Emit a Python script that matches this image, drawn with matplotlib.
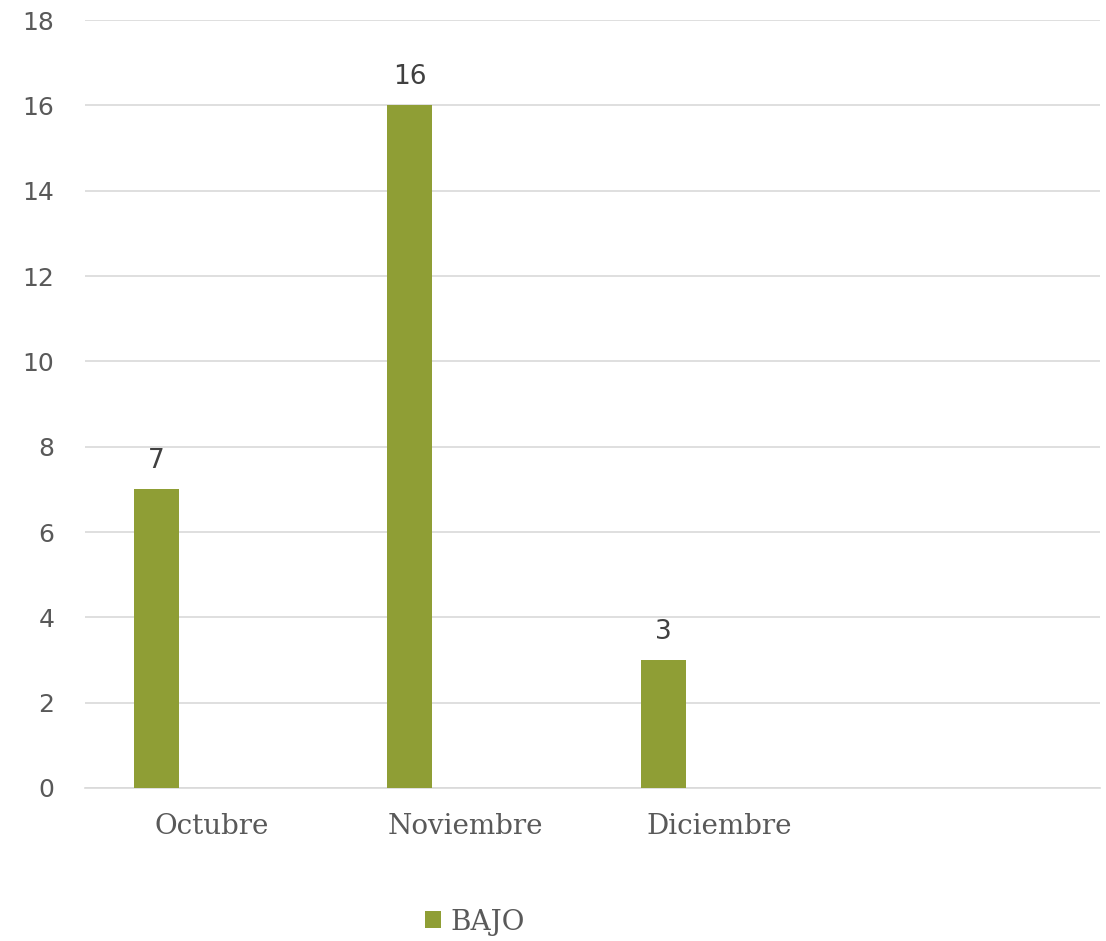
import matplotlib.pyplot as plt

# datos
categories = ['Octubre', 'Noviembre', 'Diciembre', '']
bajo = [7, 16, 3, None]
series_name = 'BAJO'
y_ticks = [0, 2, 4, 6, 8, 10, 12, 14, 16, 18]

bar_color = '#8F9E35'
text_color = '#595959'
grid_color = '#D9D9D9'

plt.rcParams['font.family'] = ['DejaVu Serif']

fig = plt.figure(figsize=(11.06, 9.41), dpi=100)
ax = fig.add_axes([0.0769, 0.1626, 0.9177, 0.8161])

xs = list(range(len(categories)))
offset = -0.22
width = 0.177
bx = [x + offset for x, v in zip(xs, bajo) if v is not None]
bv = [v for v in bajo if v is not None]
bars = ax.bar(bx, bv, width=width, color=bar_color, label=series_name, zorder=3)

# etiquetas de datos
for x, v in zip(bx, bv):
    ax.annotate(str(v), (x, v), xytext=(0, 11), textcoords='offset points',
                ha='center', va='bottom', fontsize=19, color='#404040',
                family='DejaVu Sans')

ax.set_xlim(-0.5, 3.5)
ax.set_ylim(0, 18)
ax.set_yticks(y_ticks)
ax.set_yticklabels([str(t) for t in y_ticks], family='DejaVu Sans', fontsize=18)
ax.set_xticks(xs)
ax.set_xticklabels(categories, fontsize=20)
ax.tick_params(axis='both', length=0, colors=text_color)
ax.tick_params(axis='x', pad=18)
ax.tick_params(axis='y', pad=22)

ax.grid(axis='y', color=grid_color, linewidth=1.2, zorder=0)
for s in ['top', 'right', 'left']:
    ax.spines[s].set_visible(False)
ax.spines['bottom'].set_color(grid_color)
ax.spines['bottom'].set_linewidth(1.2)

leg = fig.legend(handles=[bars], labels=[series_name], loc='center',
                 bbox_to_anchor=(475 / 1106, 1 - 922 / 941), frameon=False,
                 fontsize=20, handlelength=0.55, handleheight=0.55,
                 handletextpad=0.35, labelcolor=text_color)

fig.savefig('out.png', dpi=100)
